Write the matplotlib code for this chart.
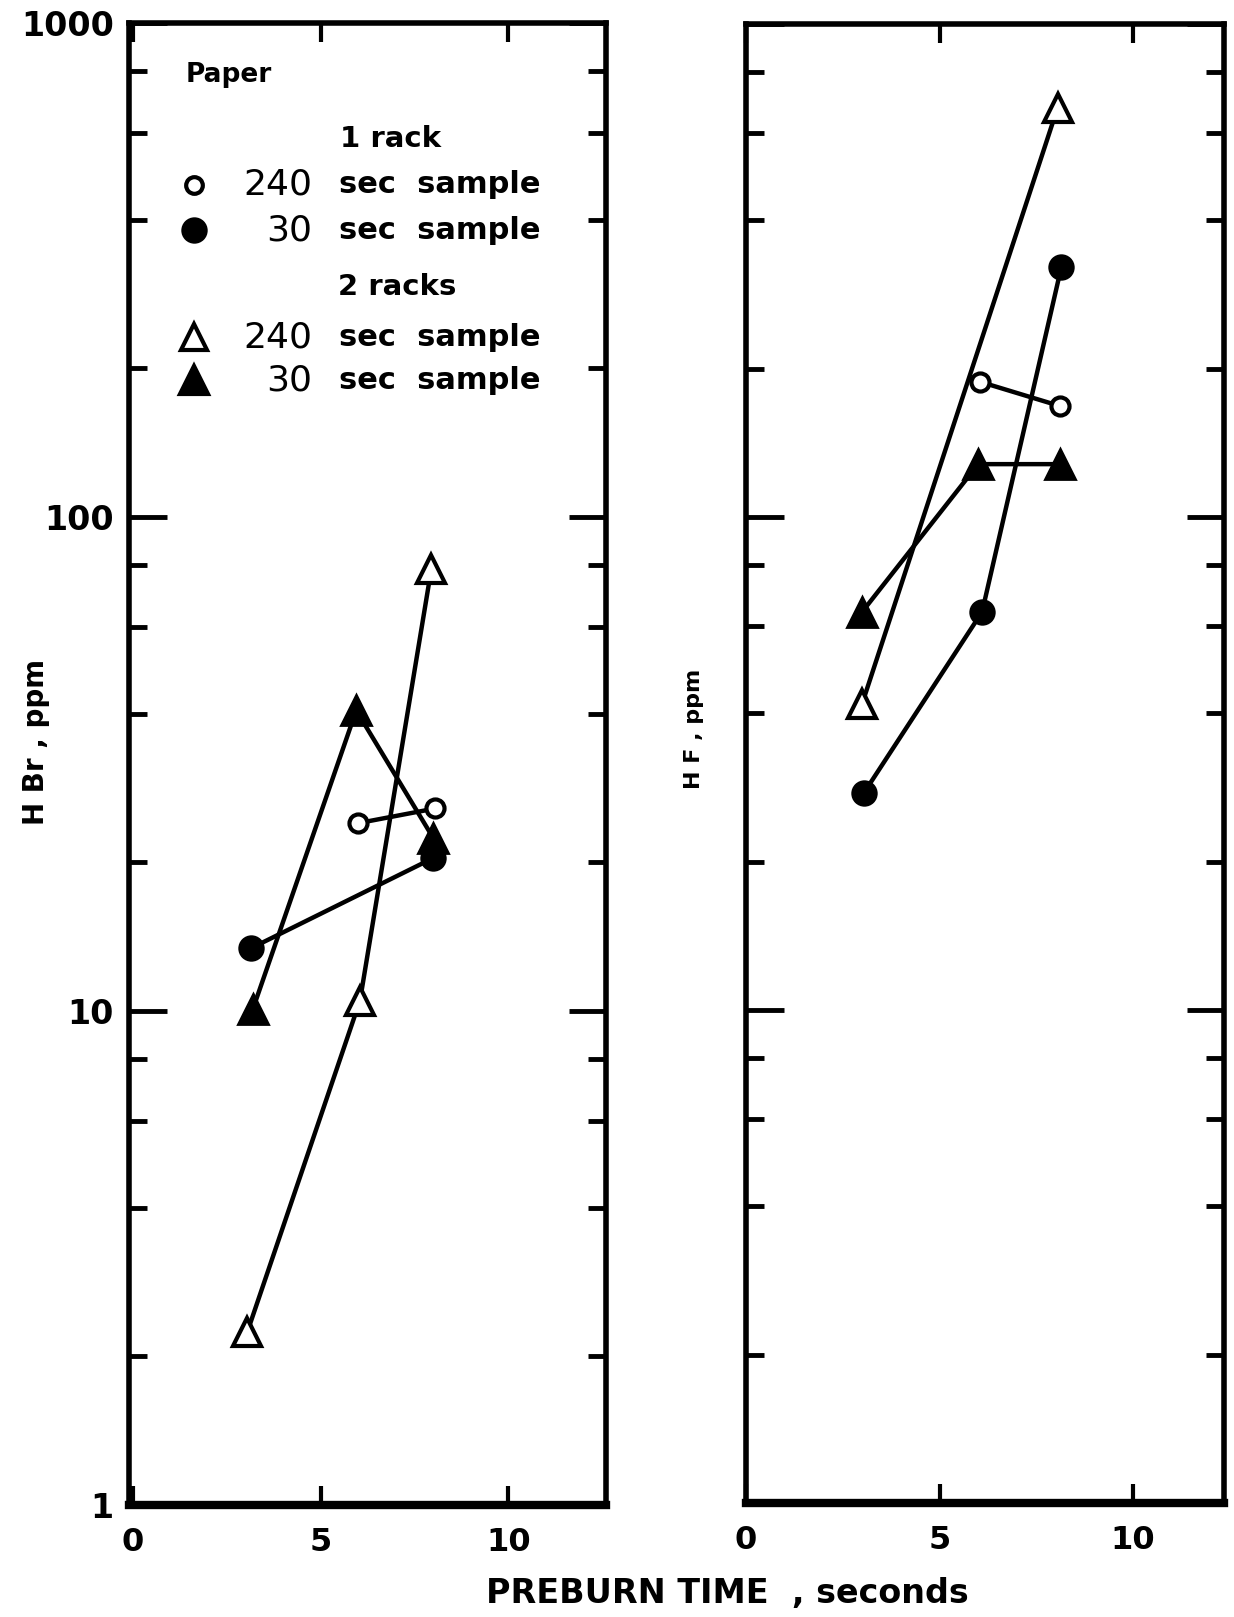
import matplotlib.pyplot as plt
from matplotlib.lines import Line2D

plt.rcParams['font.family'] = ['DejaVu Sans']
plt.rcParams['font.weight'] = 'bold'

# HBr (left panel), preburn time in seconds vs ppm
hbr_rack1_240_t = [6.0, 8.05]
hbr_rack1_240_v = [24.0, 25.7]
hbr_rack1_30_t = [3.15, 8.0]
hbr_rack1_30_v = [13.4, 20.4]
hbr_rack2_240_t = [3.05, 6.05, 7.95]
hbr_rack2_240_v = [2.24, 10.5, 78.5]
hbr_rack2_30_t = [3.2, 5.95, 8.0]
hbr_rack2_30_v = [10.1, 40.6, 22.4]

# HF (right panel)
hf_rack1_240_t = [6.05, 8.1]
hf_rack1_240_v = [188, 168]
hf_rack1_30_t = [3.05, 6.1, 8.15]
hf_rack1_30_v = [27.6, 64.2, 322]
hf_rack2_240_t = [3.0, 8.05]
hf_rack2_240_v = [41.8, 676]
hf_rack2_30_t = [3.0, 6.0, 8.1]
hf_rack2_30_v = [64.2, 128, 128]

y_ticks = [1, 10, 100, 1000]
y_tick_labels = ['1', '10', '100', '1000']
y_minor = [2, 4, 6, 8, 20, 40, 60, 80, 200, 400, 600, 800]
x_ticks = [0, 5, 10]

W, H = 1234, 1617
fig = plt.figure(figsize=(W / 100, H / 100), dpi=100)
ax1 = fig.add_axes([129 / W, 1 - 1505 / H, 477 / W, 1482 / H])
ax2 = fig.add_axes([746 / W, 1 - 1503 / H, 478 / W, 1479 / H])

open_style = dict(color='black', lw=3.2, markerfacecolor='white', markeredgecolor='black', mew=3)
fill_style = dict(color='black', lw=3.2, markerfacecolor='black', markeredgecolor='black', mew=2)


def draw(ax, series):
    for t, v, m, ms, style in series:
        ax.plot(t, v, marker=m, ms=ms, **style, zorder=3)


draw(ax1, [
    (hbr_rack1_240_t, hbr_rack1_240_v, 'o', 13, open_style),
    (hbr_rack1_30_t, hbr_rack1_30_v, 'o', 17, fill_style),
    (hbr_rack2_240_t, hbr_rack2_240_v, '^', 20, open_style),
    (hbr_rack2_30_t, hbr_rack2_30_v, '^', 21, fill_style),
])
draw(ax2, [
    (hf_rack1_240_t, hf_rack1_240_v, 'o', 13, open_style),
    (hf_rack1_30_t, hf_rack1_30_v, 'o', 17, fill_style),
    (hf_rack2_240_t, hf_rack2_240_v, '^', 20, open_style),
    (hf_rack2_30_t, hf_rack2_30_v, '^', 21, fill_style),
])

for ax, xl in ((ax1, (-0.1, 12.6)), (ax2, (0.15, 12.35))):
    ax.set_yscale('log')
    ax.set_ylim(1, 1000)
    ax.set_xlim(*xl)
    ax.set_yticks(y_ticks)
    ax.set_yticks(y_minor, minor=True)
    ax.set_xticks(x_ticks)
    ax.tick_params(axis='y', which='major', direction='in', length=27, width=3.5,
                   left=True, right=True, labelsize=24, pad=11)
    ax.tick_params(axis='y', which='minor', direction='in', length=13, width=3.5,
                   left=True, right=True, labelleft=False)
    ax.tick_params(axis='x', which='major', direction='in', length=14, width=3,
                   top=True, bottom=True, labelsize=23, pad=16)
    for s in ax.spines.values():
        s.set_linewidth(4)
    ax.spines['bottom'].set_linewidth(6)
    ax.set_xticklabels([str(x) for x in x_ticks])

ax1.set_yticklabels(y_tick_labels)
ax2.tick_params(axis='y', which='both', labelleft=False)

# legend block in the left panel
ax1.text(0.119, 0.965, 'Paper', transform=ax1.transAxes, fontsize=19, va='center', ha='left')
groups = [
    (0.922, '1 rack', 0.549, [(0.891, 'o', 'white', 12, '240'), (0.860, 'o', 'black', 16, '30')]),
    (0.822, '2 racks', 0.562, [(0.788, '^', 'white', 19, '240'), (0.759, '^', 'black', 20, '30')]),
]
for hy, head, hx, rows in groups:
    ax1.text(hx, hy, head, transform=ax1.transAxes, fontsize=21, ha='center', va='center')
    for ry, m, fc, ms, num in rows:
        ax1.add_line(Line2D([0.136], [ry], transform=ax1.transAxes, marker=m, ms=ms,
                            markerfacecolor=fc, markeredgecolor='black', mew=3, ls='none'))
        ax1.text(0.384, ry, num, transform=ax1.transAxes, fontsize=26, fontweight='normal',
                 ha='right', va='center')
        ax1.text(0.440, ry, 'sec  sample', transform=ax1.transAxes, fontsize=22, ha='left', va='center')

fig.text(36 / W, 1 - 742 / H, 'H Br , ppm', rotation=90, fontsize=20, ha='center', va='center')
fig.text(694 / W, 1 - 729 / H, 'H F , ppm', rotation=90, fontsize=16, ha='center', va='center')
fig.text(727 / W, 1 - 1593 / H, 'PREBURN TIME  , seconds', fontsize=24, ha='center', va='center')

fig.savefig('out.png', dpi=100, facecolor='white')
